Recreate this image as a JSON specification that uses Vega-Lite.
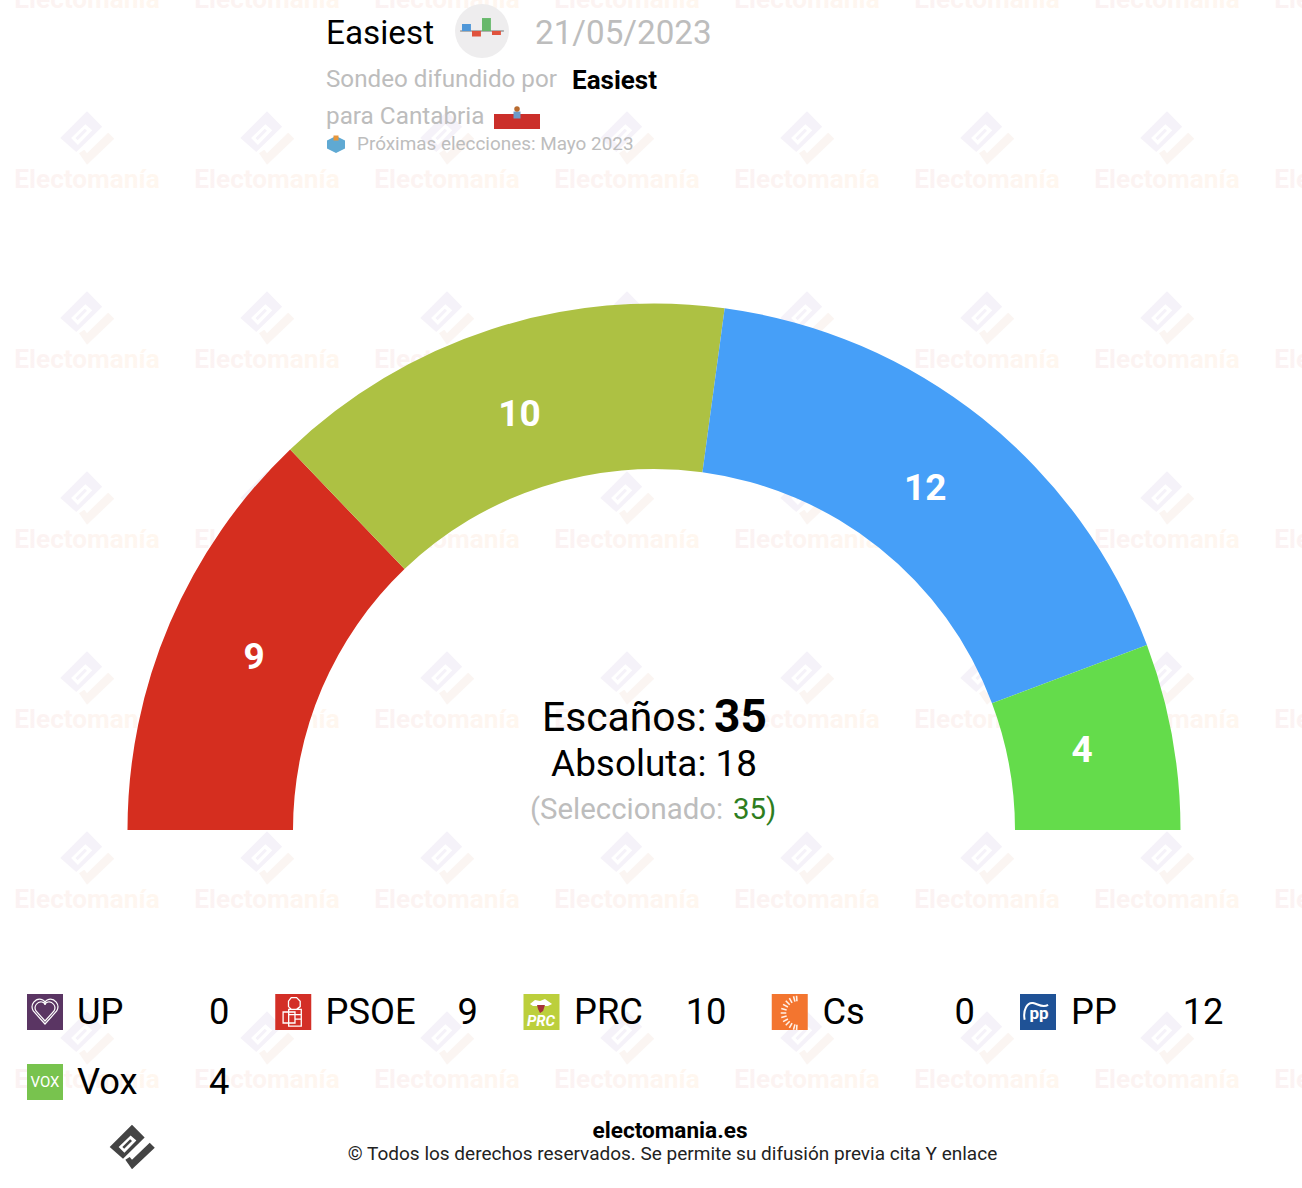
{"$schema":"https://vega.github.io/schema/vega-lite/v6.json","width":1302,"height":1188,"padding":0,"autosize":{"type":"none"},"background":"white",
"config":{"view":{"stroke":null},"axis":{"disable":true},"font":"Roboto","text":{"font":"Roboto","baseline":"middle"}},
"datasets":{
"one":[{"k":1}],
"parties":[{"party":"UP","seats":0,"orden":1,"slot":0,"line":0},{"party":"PSOE","seats":9,"orden":2,"slot":1,"line":0},{"party":"PRC","seats":10,"orden":3,"slot":2,"line":0},{"party":"Cs","seats":0,"orden":4,"slot":3,"line":0},{"party":"PP","seats":12,"orden":5,"slot":4,"line":0},{"party":"Vox","seats":4,"orden":6,"slot":0,"line":1}],
"grid":[{"c":0,"r":0},{"c":1,"r":0},{"c":2,"r":0},{"c":3,"r":0},{"c":4,"r":0},{"c":5,"r":0},{"c":6,"r":0},{"c":7,"r":0},{"c":0,"r":1},{"c":1,"r":1},{"c":2,"r":1},{"c":3,"r":1},{"c":4,"r":1},{"c":5,"r":1},{"c":6,"r":1},{"c":7,"r":1},{"c":0,"r":2},{"c":1,"r":2},{"c":2,"r":2},{"c":3,"r":2},{"c":4,"r":2},{"c":5,"r":2},{"c":6,"r":2},{"c":7,"r":2},{"c":0,"r":3},{"c":1,"r":3},{"c":2,"r":3},{"c":3,"r":3},{"c":4,"r":3},{"c":5,"r":3},{"c":6,"r":3},{"c":7,"r":3},{"c":0,"r":4},{"c":1,"r":4},{"c":2,"r":4},{"c":3,"r":4},{"c":4,"r":4},{"c":5,"r":4},{"c":6,"r":4},{"c":7,"r":4},{"c":0,"r":5},{"c":1,"r":5},{"c":2,"r":5},{"c":3,"r":5},{"c":4,"r":5},{"c":5,"r":5},{"c":6,"r":5},{"c":7,"r":5},{"c":0,"r":6},{"c":1,"r":6},{"c":2,"r":6},{"c":3,"r":6},{"c":4,"r":6},{"c":5,"r":6},{"c":6,"r":6},{"c":7,"r":6}]},
"resolve":{"scale":{"x":"independent","y":"independent","color":"independent","theta":"independent"}},
"layer":[
{"data":{"name":"grid"},"mark":{"type":"text","text":"Electomanía","fontSize":26.2,"fontWeight":"bold","fill":{"x1":0,"y1":0,"x2":1,"y2":0,"gradient":"linear","stops":[{"offset":0,"color":"#fbf2f3"},{"offset":1,"color":"#fff7ef"}]}},"encoding":{"x":{"field":"c","type":"quantitative","scale":{"domain":[0,7],"range":[87,1347]}},"y":{"field":"r","type":"quantitative","scale":{"domain":[0,6],"range":[0,1080]}}}},
{"data":{"name":"grid"},"mark":{"type":"point","filled":true,"opacity":1,"size":3025,"color":"#f5f2f9","shape":"M0,-.97L.55,-.41L-.39,.51L-.97,0ZM-.58,0L-.33,.25L.19,-.28L-.06,-.5ZM-.42,0L-.08,-.34L0,-.26L-.34,.08Z"},"encoding":{"x":{"field":"c","type":"quantitative","scale":{"domain":[0,7],"range":[87,1347]}},"y":{"field":"r","type":"quantitative","scale":{"domain":[0,6],"range":[-42,1038]}}}},
{"data":{"name":"grid"},"mark":{"type":"point","filled":true,"opacity":1,"size":3025,"color":"#fbf5f2","shape":"M-.29,.55L-.1,.43L0,.55L.77,-.19L.99,.03L0,.97Z"},"encoding":{"x":{"field":"c","type":"quantitative","scale":{"domain":[0,7],"range":[87,1347]}},"y":{"field":"r","type":"quantitative","scale":{"domain":[0,6],"range":[-42,1038]}}}},

{"data":{"name":"parties"},"mark":{"type":"arc","radius":526.5,"radius2":361},"encoding":{"x":{"datum":654,"scale":{"domain":[0,1302],"range":[0,1302]}},"y":{"datum":830,"scale":{"domain":[0,1188],"range":[0,1188]}},"theta":{"field":"seats","type":"quantitative","stack":true,"scale":{"domain":[0,35],"range":[-1.5708,1.5708]}},"order":{"field":"orden"},"color":{"field":"party","type":"nominal","legend":null,"scale":{"domain":["UP","PSOE","PRC","Cs","PP","Vox"],"range":["#5a3563","#d52e1f","#adc143","#f3752f","#469ff8","#64dc4b"]}}}},
{"data":{"name":"parties"},"transform":[{"filter":"datum.seats>0"}],"mark":{"type":"text","radius":435,"fontSize":37,"fontWeight":"bold","color":"white"},"encoding":{"x":{"datum":654,"scale":{"domain":[0,1302],"range":[0,1302]}},"y":{"datum":829,"scale":{"domain":[0,1188],"range":[0,1188]}},"theta":{"field":"seats","type":"quantitative","stack":true,"scale":{"domain":[0,35],"range":[-1.5708,1.5708]}},"order":{"field":"orden"},"detail":{"field":"party"},"text":{"field":"seats","type":"quantitative"}}},

{"data":{"values":[{"t":"Escaños:"}]},"mark":{"type":"text","align":"left","fontSize":40.8,"color":"#000"},"encoding":{"text":{"field":"t"},"x":{"datum":542,"scale":{"domain":[0,1302],"range":[0,1302]}},"y":{"datum":719,"scale":{"domain":[0,1188],"range":[0,1188]}}}},
{"data":{"values":[{"t":"35"}]},"mark":{"type":"text","align":"left","fontSize":46,"fontWeight":"bold","color":"#000"},"encoding":{"text":{"field":"t"},"x":{"datum":714,"scale":{"domain":[0,1302],"range":[0,1302]}},"y":{"datum":718,"scale":{"domain":[0,1188],"range":[0,1188]}}}},
{"data":{"values":[{"t":"Absoluta: 18"}]},"mark":{"type":"text","align":"center","fontSize":36.9,"color":"#000"},"encoding":{"text":{"field":"t"},"x":{"datum":654,"scale":{"domain":[0,1302],"range":[0,1302]}},"y":{"datum":765,"scale":{"domain":[0,1188],"range":[0,1188]}}}},
{"data":{"values":[{"t":"(Seleccionado:"}]},"mark":{"type":"text","align":"left","fontSize":29.4,"color":"#bdbdbd"},"encoding":{"text":{"field":"t"},"x":{"datum":530,"scale":{"domain":[0,1302],"range":[0,1302]}},"y":{"datum":810,"scale":{"domain":[0,1188],"range":[0,1188]}}}},
{"data":{"values":[{"t":"35)"}]},"mark":{"type":"text","align":"left","fontSize":29.4,"color":"#2e7d1e"},"encoding":{"text":{"field":"t"},"x":{"datum":733,"scale":{"domain":[0,1302],"range":[0,1302]}},"y":{"datum":810,"scale":{"domain":[0,1188],"range":[0,1188]}}}},

{"data":{"name":"parties"},"mark":{"type":"point","shape":"square","filled":true,"opacity":1,"size":1296},"encoding":{"x":{"field":"slot","type":"quantitative","scale":{"domain":[0,4],"range":[45,1038]}},"y":{"field":"line","type":"quantitative","scale":{"domain":[0,1],"range":[1012,1082]}},"color":{"field":"party","type":"nominal","legend":null,"scale":{"domain":["UP","PSOE","PRC","Cs","PP","Vox"],"range":["#5a3563","#d32f27","#bccf3c","#f3752f","#1f5296","#78c34e"]}}}},
{"data":{"name":"parties"},"mark":{"type":"text","align":"left","fontSize":36.3,"color":"#000"},"encoding":{"text":{"field":"party"},"x":{"field":"slot","type":"quantitative","scale":{"domain":[0,4],"range":[77,1071]}},"y":{"field":"line","type":"quantitative","scale":{"domain":[0,1],"range":[1013,1083]}}}},
{"data":{"name":"parties"},"mark":{"type":"text","align":"right","fontSize":36.3,"color":"#000"},"encoding":{"text":{"field":"seats","type":"quantitative"},"x":{"field":"slot","type":"quantitative","scale":{"domain":[0,4],"range":[229.5,1223.5]}},"y":{"field":"line","type":"quantitative","scale":{"domain":[0,1],"range":[1013,1083]}}}},

{"data":{"name":"one"},"mark":{"type":"point","filled":false,"opacity":1,"stroke":"#ffffff","strokeWidth":1.2,"size":676,"shape":"M0,1L-.9,0C-1.2,-.5 -.7,-1 -.3,-.9C-.1,-.85 0,-.7 0,-.6C0,-.7 .1,-.85 .3,-.9C.7,-1 1.2,-.5 .9,0Z"},"encoding":{"x":{"datum":45,"scale":{"domain":[0,1302],"range":[0,1302]}},"y":{"datum":1011,"scale":{"domain":[0,1188],"range":[0,1188]}}}},
{"data":{"name":"one"},"mark":{"type":"point","filled":false,"opacity":1,"stroke":"#ffffff","strokeWidth":1.2,"size":400,"shape":"M0,1L-.9,0C-1.2,-.5 -.7,-1 -.3,-.9C-.1,-.85 0,-.7 0,-.6C0,-.7 .1,-.85 .3,-.9C.7,-1 1.2,-.5 .9,0Z"},"encoding":{"x":{"datum":45,"scale":{"domain":[0,1302],"range":[0,1302]}},"y":{"datum":1011,"scale":{"domain":[0,1188],"range":[0,1188]}}}},
{"data":{"name":"one"},"mark":{"type":"point","filled":false,"opacity":1,"stroke":"#ffffff","strokeWidth":1.3,"size":1296,"shape":"M-.1,-.8L.2,-.8L.4,-.6L.4,-.3L.2,-.15L-.1,-.15L-.25,-.3L-.25,-.6ZM-.24,-.15L.46,-.15L.46,.78L-.24,.78ZM-.55,0L.11,0L.11,.61L-.55,.61ZM-.24,.15L.46,.15M.11,.4L.46,.4"},"encoding":{"x":{"datum":293,"scale":{"domain":[0,1302],"range":[0,1302]}},"y":{"datum":1012,"scale":{"domain":[0,1188],"range":[0,1188]}}}},
{"data":{"name":"one"},"mark":{"type":"point","filled":true,"opacity":1,"color":"#ffffff","size":576,"shape":"M-.92,-.17L-.5,-.5L-.08,-.42L.33,-.58L.92,-.17L.58,0L-.67,0Z"},"encoding":{"x":{"datum":541,"scale":{"domain":[0,1302],"range":[0,1302]}},"y":{"datum":1006,"scale":{"domain":[0,1188],"range":[0,1188]}}}},
{"data":{"name":"one"},"mark":{"type":"point","filled":true,"opacity":1,"color":"#a5323a","size":576,"shape":"M-.33,-.08L.33,-.08L.17,.42L-.08,.58L-.25,.25Z"},"encoding":{"x":{"datum":541,"scale":{"domain":[0,1302],"range":[0,1302]}},"y":{"datum":1006,"scale":{"domain":[0,1188],"range":[0,1188]}}}},
{"data":{"values":[{"t":"PRC"}]},"mark":{"type":"text","align":"center","fontSize":15,"fontWeight":"bold","fontStyle":"italic","color":"#ffffff"},"encoding":{"text":{"field":"t"},"x":{"datum":541,"scale":{"domain":[0,1302],"range":[0,1302]}},"y":{"datum":1021,"scale":{"domain":[0,1188],"range":[0,1188]}}}},
{"data":{"name":"one"},"mark":{"type":"point","filled":false,"opacity":1,"stroke":"#fff0e6","strokeWidth":1.6,"size":1296,"shape":"M-.06,.65L-.08,.96M-.17,.63L-.25,.93M-.33,.56L-.48,.83M-.46,.46L-.68,.68M-.56,.33L-.83,.48M-.63,.17L-.93,.25M-.65,0L-.96,0M-.63,-.17L-.93,-.25M-.56,-.33L-.83,-.48M-.46,-.46L-.68,-.68M-.33,-.56L-.48,-.83M-.17,-.63L-.25,-.93M-.06,-.65L-.08,-.96"},"encoding":{"x":{"datum":798,"scale":{"domain":[0,1302],"range":[0,1302]}},"y":{"datum":1013,"scale":{"domain":[0,1188],"range":[0,1188]}}}},
{"data":{"name":"one"},"mark":{"type":"point","filled":false,"opacity":1,"stroke":"#ffffff","strokeWidth":2,"size":1296,"shape":"M-.74,.43C-.85,-.1 -.6,-.55 -.28,-.5C0,-.45 .25,-.2 .56,-.4"},"encoding":{"x":{"datum":1038,"scale":{"domain":[0,1302],"range":[0,1302]}},"y":{"datum":1012,"scale":{"domain":[0,1188],"range":[0,1188]}}}},
{"data":{"values":[{"t":"pp"}]},"mark":{"type":"text","align":"center","fontSize":17,"fontWeight":"bold","color":"#ffffff"},"encoding":{"text":{"field":"t"},"x":{"datum":1039,"scale":{"domain":[0,1302],"range":[0,1302]}},"y":{"datum":1014,"scale":{"domain":[0,1188],"range":[0,1188]}}}},
{"data":{"values":[{"t":"VOX"}]},"mark":{"type":"text","align":"center","fontSize":15,"color":"#ffffff"},"encoding":{"text":{"field":"t"},"x":{"datum":45,"scale":{"domain":[0,1302],"range":[0,1302]}},"y":{"datum":1082,"scale":{"domain":[0,1188],"range":[0,1188]}}}},

{"data":{"values":[{"t":"Easiest"}]},"mark":{"type":"text","align":"left","fontSize":33.3,"color":"#000"},"encoding":{"text":{"field":"t"},"x":{"datum":326,"scale":{"domain":[0,1302],"range":[0,1302]}},"y":{"datum":34,"scale":{"domain":[0,1188],"range":[0,1188]}}}},
{"data":{"name":"one"},"mark":{"type":"point","shape":"circle","filled":true,"opacity":1,"color":"#eeedee","size":2916},"encoding":{"x":{"datum":482,"scale":{"domain":[0,1302],"range":[0,1302]}},"y":{"datum":31,"scale":{"domain":[0,1188],"range":[0,1188]}}}},
{"data":{"name":"one"},"mark":{"type":"point","filled":true,"opacity":1,"color":"#9a9a9a","size":2916,"shape":"M-.81,-.03L.81,-.03L.81,.03L-.81,.03Z"},"encoding":{"x":{"datum":482,"scale":{"domain":[0,1302],"range":[0,1302]}},"y":{"datum":31,"scale":{"domain":[0,1188],"range":[0,1188]}}}},
{"data":{"name":"one"},"mark":{"type":"point","filled":true,"opacity":1,"color":"#4f97d8","size":2916,"shape":"M-.74,-.26L-.41,-.26L-.41,0L-.74,0Z"},"encoding":{"x":{"datum":482,"scale":{"domain":[0,1302],"range":[0,1302]}},"y":{"datum":31,"scale":{"domain":[0,1188],"range":[0,1188]}}}},
{"data":{"name":"one"},"mark":{"type":"point","filled":true,"opacity":1,"color":"#e0533d","size":2916,"shape":"M-.37,0L-.04,0L-.04,.2L-.37,.2ZM.37,0L.7,0L.7,.15L.37,.15Z"},"encoding":{"x":{"datum":482,"scale":{"domain":[0,1302],"range":[0,1302]}},"y":{"datum":31,"scale":{"domain":[0,1188],"range":[0,1188]}}}},
{"data":{"name":"one"},"mark":{"type":"point","filled":true,"opacity":1,"color":"#67b86b","size":2916,"shape":"M0,-.48L.33,-.48L.33,0L0,0Z"},"encoding":{"x":{"datum":482,"scale":{"domain":[0,1302],"range":[0,1302]}},"y":{"datum":31,"scale":{"domain":[0,1188],"range":[0,1188]}}}},
{"data":{"values":[{"t":"21/05/2023"}]},"mark":{"type":"text","align":"left","fontSize":33.2,"color":"#bdbdbd"},"encoding":{"text":{"field":"t"},"x":{"datum":535,"scale":{"domain":[0,1302],"range":[0,1302]}},"y":{"datum":34,"scale":{"domain":[0,1188],"range":[0,1188]}}}},
{"data":{"values":[{"t":"Sondeo difundido por"}]},"mark":{"type":"text","align":"left","fontSize":24.2,"color":"#bdbdbd"},"encoding":{"text":{"field":"t"},"x":{"datum":326,"scale":{"domain":[0,1302],"range":[0,1302]}},"y":{"datum":80,"scale":{"domain":[0,1188],"range":[0,1188]}}}},
{"data":{"values":[{"t":"Easiest"}]},"mark":{"type":"text","align":"left","fontSize":26,"fontWeight":"bold","color":"#000"},"encoding":{"text":{"field":"t"},"x":{"datum":572,"scale":{"domain":[0,1302],"range":[0,1302]}},"y":{"datum":81,"scale":{"domain":[0,1188],"range":[0,1188]}}}},
{"data":{"values":[{"t":"para Cantabria"}]},"mark":{"type":"text","align":"left","fontSize":24.3,"color":"#bdbdbd"},"encoding":{"text":{"field":"t"},"x":{"datum":326,"scale":{"domain":[0,1302],"range":[0,1302]}},"y":{"datum":117,"scale":{"domain":[0,1188],"range":[0,1188]}}}},
{"data":{"name":"one"},"mark":{"type":"point","filled":true,"opacity":1,"color":"#cb2f2a","size":2116,"shape":"M-1,-.326L1,-.326L1,.326L-1,.326Z"},"encoding":{"x":{"datum":517,"scale":{"domain":[0,1302],"range":[0,1302]}},"y":{"datum":121.5,"scale":{"domain":[0,1188],"range":[0,1188]}}}},
{"data":{"name":"one"},"mark":{"type":"point","shape":"square","filled":true,"opacity":1,"color":"#6d9bc9","size":49},"encoding":{"x":{"datum":517,"scale":{"domain":[0,1302],"range":[0,1302]}},"y":{"datum":115,"scale":{"domain":[0,1188],"range":[0,1188]}}}},
{"data":{"name":"one"},"mark":{"type":"point","shape":"circle","filled":true,"opacity":1,"color":"#b86b2f","size":30},"encoding":{"x":{"datum":517,"scale":{"domain":[0,1302],"range":[0,1302]}},"y":{"datum":109,"scale":{"domain":[0,1188],"range":[0,1188]}}}},
{"data":{"name":"one"},"mark":{"type":"point","filled":true,"opacity":1,"color":"#5fa9d3","size":324,"shape":"M-1,-.4L0,-.9L1,-.4L1,.5L0,1L-1,.5Z"},"encoding":{"x":{"datum":336,"scale":{"domain":[0,1302],"range":[0,1302]}},"y":{"datum":144,"scale":{"domain":[0,1188],"range":[0,1188]}}}},
{"data":{"name":"one"},"mark":{"type":"point","shape":"square","filled":true,"opacity":1,"color":"#e8963a","size":25},"encoding":{"x":{"datum":336,"scale":{"domain":[0,1302],"range":[0,1302]}},"y":{"datum":138,"scale":{"domain":[0,1188],"range":[0,1188]}}}},
{"data":{"values":[{"t":"Próximas elecciones: Mayo 2023"}]},"mark":{"type":"text","align":"left","fontSize":18.9,"color":"#bdbdbd"},"encoding":{"text":{"field":"t"},"x":{"datum":357,"scale":{"domain":[0,1302],"range":[0,1302]}},"y":{"datum":144,"scale":{"domain":[0,1188],"range":[0,1188]}}}},

{"data":{"name":"one"},"mark":{"type":"point","filled":true,"opacity":1,"color":"#444444","size":2116,"shape":"M0,-.97L.55,-.41L-.39,.51L-.97,0ZM-.58,0L-.33,.25L.19,-.28L-.06,-.5ZM-.42,0L-.08,-.34L0,-.26L-.34,.08ZM-.29,.55L-.1,.43L0,.55L.77,-.19L.99,.03L0,.97Z"},"encoding":{"x":{"datum":132,"scale":{"domain":[0,1302],"range":[0,1302]}},"y":{"datum":1147,"scale":{"domain":[0,1188],"range":[0,1188]}}}},
{"data":{"values":[{"t":"electomania.es"}]},"mark":{"type":"text","align":"center","fontSize":22.6,"fontWeight":"bold","color":"#000"},"encoding":{"text":{"field":"t"},"x":{"datum":670,"scale":{"domain":[0,1302],"range":[0,1302]}},"y":{"datum":1131,"scale":{"domain":[0,1188],"range":[0,1188]}}}},
{"data":{"values":[{"t":"© Todos los derechos reservados. Se permite su difusión previa cita Y enlace"}]},"mark":{"type":"text","align":"center","fontSize":19,"color":"#222"},"encoding":{"text":{"field":"t"},"x":{"datum":672.5,"scale":{"domain":[0,1302],"range":[0,1302]}},"y":{"datum":1154,"scale":{"domain":[0,1188],"range":[0,1188]}}}}
]}
